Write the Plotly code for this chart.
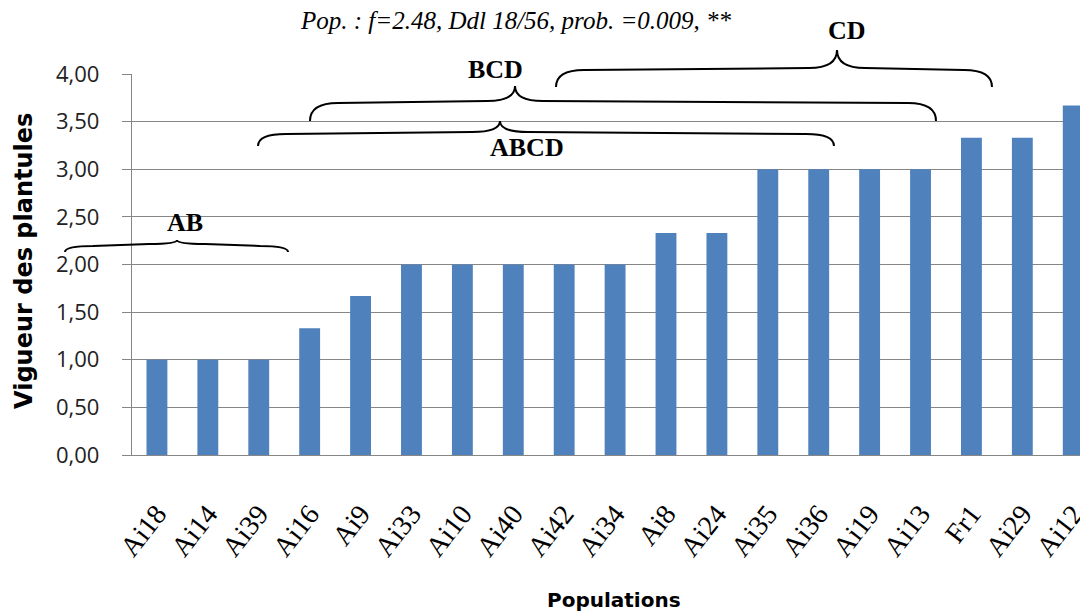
import plotly.graph_objects as go

# ---- data ----
categories = ["Ai18", "Ai14", "Ai39", "Ai16", "Ai9", "Ai33", "Ai10", "Ai40", "Ai42", "Ai34",
              "Ai8", "Ai24", "Ai35", "Ai36", "Ai19", "Ai13", "Fr1", "Ai29", "Ai12"]
values = [1.00, 1.00, 1.00, 1.33, 1.67, 2.00, 2.00, 2.00, 2.00, 2.00,
          2.33, 2.33, 3.00, 3.00, 3.00, 3.00, 3.33, 3.33, 3.67]
y_ticks = [0, 0.5, 1.0, 1.5, 2.0, 2.5, 3.0, 3.5, 4.0]
group_labels = ["AB", "ABCD", "BCD", "CD"]

# ---- layout geometry (page pixels; the page body adds an 8px offset) ----
OFF = 8
PW, PH = 1088, 613
L, R, T, B = 132, 1088, 74, 455
W, H = PW - OFF, PH - OFF


def px(x):
    return (x - L) / (R - L)


def py(y):
    return (B - y) / (B - T)


def brace_path(x0, x1, xm, yend, yarm, ytip, w=28):
    pts = [
        f"M {px(x0)},{py(yend)}",
        f"Q {px(x0)},{py(yarm)} {px(x0 + w)},{py(yarm)}",
        f"L {px(xm - w)},{py(yarm - 2)}",
        f"Q {px(xm)},{py(yarm - 2)} {px(xm)},{py(ytip)}",
        f"Q {px(xm)},{py(yarm - 2)} {px(xm + w)},{py(yarm - 2)}",
        f"L {px(x1 - w)},{py(yarm)}",
        f"Q {px(x1)},{py(yarm)} {px(x1)},{py(yend)}",
    ]
    return " ".join(pts)


# brace geometry: x0, x1, tip x, end y, arm y, tip y ; label center
braces = [
    dict(g=(65, 288, 177, 252, 246, 240), lab=(185, 222), text=group_labels[0]),
    dict(g=(258, 834, 500, 146, 134, 121), lab=(527, 147), text=group_labels[1]),
    dict(g=(310, 936, 515, 121, 103, 86), lab=(495, 69), text=group_labels[2]),
    dict(g=(556, 992, 837, 87, 70, 50), lab=(847, 31), text=group_labels[3]),
]

fig = go.Figure()
fig.add_trace(go.Bar(
    x=categories, y=values, width=0.41,
    marker=dict(color="#4F81BD", line=dict(width=0)),
    showlegend=False,
))

shapes = []
annotations = []
for b in braces:
    x0, x1, xm, ye, ya, yt = b["g"]
    shapes.append(dict(type="path", xref="paper", yref="paper",
                       path=brace_path(x0, x1, xm, ye, ya, yt),
                       line=dict(color="black", width=2)))
    lx, ly = b["lab"]
    annotations.append(dict(x=px(lx), y=py(ly), xref="paper", yref="paper",
                            text=f"<b>{b['text']}</b>", showarrow=False,
                            xanchor="center", yanchor="middle",
                            font=dict(family="Liberation Serif", size=26, color="black")))

# title
annotations.append(dict(x=px(516), y=py(20), xref="paper", yref="paper",
                        text="<i>Pop. : f=2.48, Ddl 18/56, prob. =0.009, **</i>",
                        showarrow=False, xanchor="center", yanchor="middle",
                        font=dict(family="Liberation Serif", size=25, color="black")))
# axis titles
annotations.append(dict(x=px(24), y=py(261), xref="paper", yref="paper",
                        text="<b>Vigueur des plantules</b>", textangle=-90,
                        showarrow=False, xanchor="center", yanchor="middle",
                        font=dict(family="DejaVu Sans", size=24, color="black")))
annotations.append(dict(x=px(614), y=py(600), xref="paper", yref="paper",
                        text="<b>Populations</b>",
                        showarrow=False, xanchor="center", yanchor="middle",
                        font=dict(family="DejaVu Sans", size=20, color="black")))

fig.update_layout(
    width=W, height=H, autosize=False,
    margin=dict(l=L - OFF, r=PW - R, t=T - OFF, b=H - (B - OFF), pad=0),
    paper_bgcolor="white", plot_bgcolor="white",
    separators=", ",
    shapes=shapes, annotations=annotations,
)
fig.update_xaxes(
    range=[-0.49, 18.29], tickangle=-52,
    tickfont=dict(family="Liberation Serif", size=28, color="black"),
    showgrid=False, showline=True, linecolor="#868686", linewidth=1.3,
    ticks="", ticklabelstandoff=30, fixedrange=True,
)
fig.update_yaxes(
    range=[0, 4], tickvals=y_ticks, tickformat=".2f",
    tickfont=dict(family="Open Sans", size=22, color="#222222"),
    showgrid=True, gridcolor="#868686", gridwidth=1.3,
    showline=True, linecolor="#868686", linewidth=1.3,
    ticks="outside", ticklen=9, tickcolor="#868686", tickwidth=1.3,
    ticklabelstandoff=18, zeroline=False, fixedrange=True,
)

fig.write_html("out.html")
